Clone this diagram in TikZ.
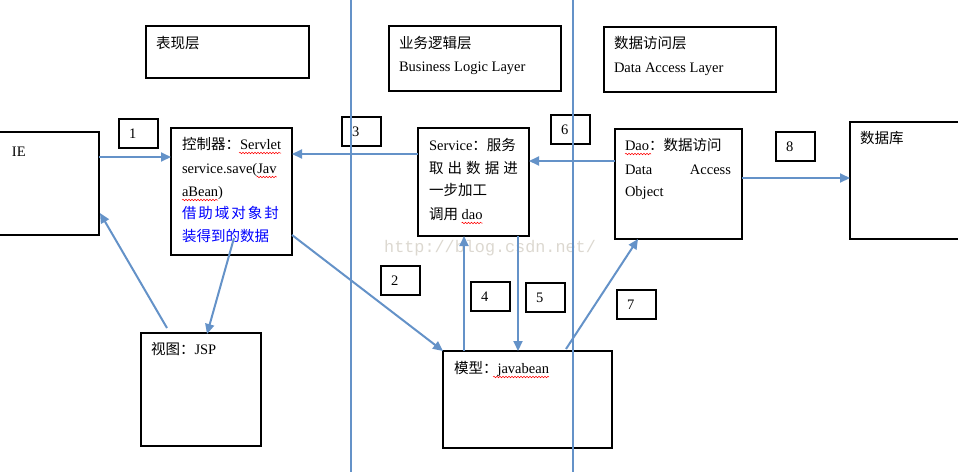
\documentclass[tikz,border=0pt]{standalone}
\usepackage{fontspec}
\setmainfont{Liberation Serif}
\newfontfamily\cjk{Noto Sans CJK SC}
\newfontfamily\wmfont{Liberation Mono}
\usetikzlibrary{arrows.meta,calc,decorations.pathmorphing}
\newcommand\zh[1]{{\cjk #1}}
\definecolor{lineblue}{RGB}{100,146,200}
\definecolor{wmgray}{RGB}{220,216,208}
\definecolor{txtblue}{RGB}{0,0,255}
\begin{document}
\begin{tikzpicture}[x=1pt,y=-1pt,
  box/.style={draw=black, line width=1.1pt, anchor=north west, inner sep=0pt, outer sep=0pt},
  numbox/.style={box, minimum width=39pt, minimum height=29pt, text width=19pt, align=left, font=\fontsize{14.5}{17}\selectfont},
  txt/.style={anchor=base west, inner sep=0pt, outer sep=0pt, font=\fontsize{14.5}{22}\selectfont},
  conn/.style={draw=lineblue, line width=2pt},
  arr/.style={conn, -{Triangle[length=10pt,width=9pt]}},
  wavy/.style={draw=red, line width=0.5pt, decorate, decoration={snake, segment length=3pt, amplitude=0.8pt}},
]
\useasboundingbox (0,0) rectangle (958,472);

% watermark
\node[anchor=base west, inner sep=0pt, text=wmgray, font=\wmfont\fontsize{16.8}{20}\selectfont] (wm) at (384,252) {http://blog.csdn.net/};

% layer boxes
\node[box, minimum width=163pt, minimum height=52pt] (pres) at (146,26) {};
\node[box, minimum width=172pt, minimum height=65pt] (biz) at (389,26) {};
\node[box, minimum width=172pt, minimum height=65pt] (dal) at (604,27) {};

% main boxes
\node[box, minimum width=119pt, minimum height=103pt] (ie) at (-20,132) {};
\node[box, minimum width=121pt, minimum height=127pt] (ctrl) at (171,128) {};
\node[box, minimum width=111pt, minimum height=108pt] (svc) at (418,128) {};
\node[box, minimum width=127pt, minimum height=110pt] (dao) at (615,129) {};
\node[box, minimum width=130pt, minimum height=117pt] (db) at (850,122) {};
\node[box, minimum width=120pt, minimum height=113pt] (jsp) at (141,333) {};
\node[box, minimum width=169pt, minimum height=97pt] (model) at (443,351) {};

% number boxes
\node[numbox] (n1) at (119,119) {1};
\node[numbox] (n3) at (342,117) {3};
\node[numbox] (n6) at (551,115) {6};
\node[numbox] (n8) at (776,132) {8};
\node[numbox] (n2) at (381,266) {2};
\node[numbox] (n4) at (471,282) {4};
\node[numbox] (n5) at (526,283) {5};
\node[numbox] (n7) at (617,290) {7};

% texts
\node[txt] (tpres) at (156,48) {\zh{表现层}};
\node[txt] (tbiz1) at (399,48) {\zh{业务逻辑层}};
\node[txt] (tbiz2) at (399,71) {Business Logic Layer};
\node[txt] (tdal1) at (614,48) {\zh{数据访问层}};
\node[txt] (tdal2) at (614,72) {Data Access Layer};
\node[txt] (tie) at (12,156) {IE};

\node[txt] (c1) at (182,149) {\zh{控制器：}Servlet};
\node[txt] (c2) at (182,173) {service.save(Jav};
\node[txt] (c3) at (182,196) {aBean)};
\node[txt, text=txtblue] (c4) at (182,218) {\hbox to 97pt{\zh{借}\hfill\zh{助}\hfill\zh{域}\hfill\zh{对}\hfill\zh{象}\hfill\zh{封}}};
\node[txt, text=txtblue] (c5) at (182,241) {\zh{装得到的数据}};

\node[txt] (s1) at (429,150) {Service\zh{：服务}};
\node[txt] (s2) at (429,173) {\hbox to 89pt{\zh{取}\hfill\zh{出}\hfill\zh{数}\hfill\zh{据}\hfill\zh{进}}};
\node[txt] (s3) at (429,195) {\zh{一步加工}};
\node[txt] (s4) at (429,219) {\zh{调用} dao};

\node[txt] (d1) at (625,150) {Dao\zh{：数据访问}};
\node[txt] (d2) at (625,174) {\hbox to 106pt{Data\hfill Access}};
\node[txt] (d3) at (625,196) {Object};

\node[txt] (tdb) at (860,143) {\zh{数据库}};
\node[txt] (tmodel) at (454,373) {\zh{模型：}javabean};
\node[txt] (tjsp) at (151,354) {\zh{视图：}JSP};

% spelling underlines
\draw[wavy] ($(c1.base east)+(-42,4)$) -- ($(c1.base east)+(0,4)$);
\draw[wavy] ($(c2.base east)+(-20,4)$) -- ($(c2.base east)+(0,4)$);
\draw[wavy] ($(c3.base west)+(0,4)$) -- ($(c3.base east)+(-5,4)$);
\draw[wavy] ($(s4.base east)+(-21,4)$) -- ($(s4.base east)+(0,4)$);
\draw[wavy] ($(d1.base west)+(0,4)$) -- ($(d1.base west)+(26,4)$);
\draw[wavy] ($(tmodel.base east)+(-56,4)$) -- ($(tmodel.base east)+(0,4)$);

% connectors
\draw[arr] ($(ie.north east)+(0,25)$) coordinate (a1s) -- (a1s -| ctrl.west);
\draw[arr] ($(svc.north west)+(0,26)$) coordinate (a3s) -- (a3s -| ctrl.east);
\draw[arr] ($(dao.north west)+(0,32)$) coordinate (a6s) -- (a6s -| svc.east);
\draw[arr] ($(dao.north east)+(0,49)$) coordinate (a8s) -- (a8s -| db.west);
\draw[arr] ($(ctrl.south)+(2.5,-17)$) -- ($(jsp.north west)+(66,1)$);
\draw[arr] ($(jsp.north west)+(26,-5)$) -- ($(ie.south east)+(1,-22)$);
\draw[arr] ($(ctrl.south east)+(0,-20)$) -- (model.north west);
\draw[arr] ($(model.north west)+(21,0)$) coordinate (a4s) -- (a4s |- svc.south);
\draw[arr] ($(svc.south west)+(100,0)$) coordinate (a5s) -- (a5s |- model.north);
\draw[arr] ($(model.north west)+(123,-2)$) -- ($(dao.south west)+(23,0)$);

% layer separators
\draw[conn] (351,0) coordinate (v1t) -- (351,472) coordinate (v1b);
\draw[conn] (573,0) coordinate (v2t) -- (573,472) coordinate (v2b);
\end{tikzpicture}
\end{document}
